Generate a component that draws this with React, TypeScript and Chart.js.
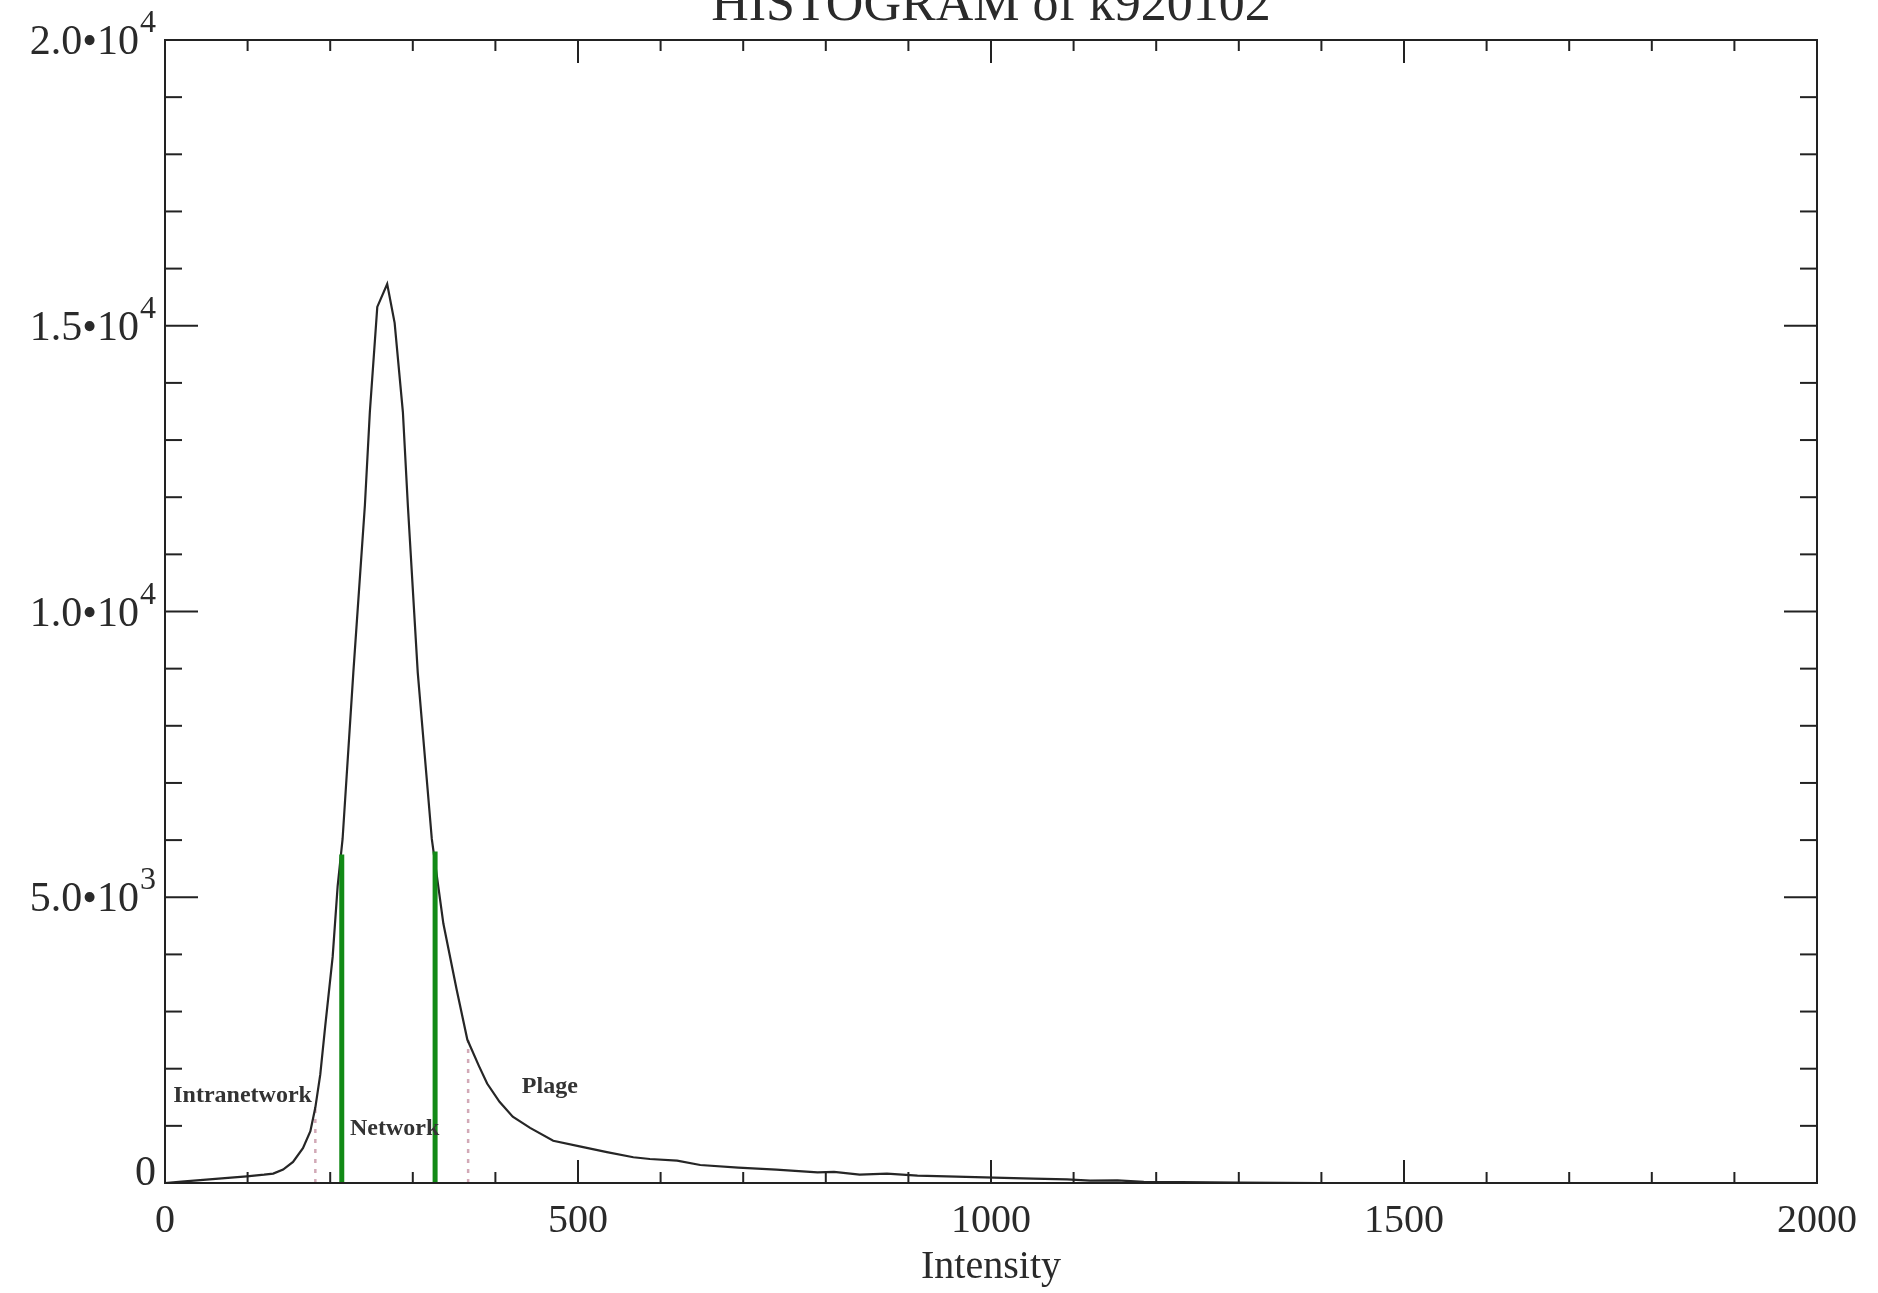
import React, { useEffect, useRef } from "react";
import { Chart, registerables } from "chart.js";

Chart.register(...registerables);

// ---- data ----
const HIST_X = [
  0, 20, 50, 80, 99, 120, 131, 143, 155, 167, 176, 182, 188, 194, 203, 209, 215, 228, 242, 248,
  257, 269, 278, 288, 294, 306, 323, 337, 353, 366, 380, 390, 405, 421, 442, 470, 502, 535, 567,
  587, 620, 648, 694, 740, 790, 810, 841, 874, 911, 958, 1004, 1051, 1092, 1120, 1153, 1185, 1230,
  1300, 1400, 1500, 1600, 1700, 1800, 1900, 2000,
];
const HIST_Y = [
  0, 25, 60, 95, 117, 145, 165, 235, 370, 610, 905, 1320, 1900, 2750, 3960, 5190, 6020, 8930, 11860,
  13490, 15330, 15730, 15050, 13490, 11860, 8930, 6020, 4540, 3390, 2510, 2050, 1740, 1420, 1160,
  965, 740, 640, 540, 450, 420, 390, 315, 270, 235, 185, 195, 145, 165, 130, 110, 95, 76, 64, 40,
  47, 20, 15, 5, 0, 0, 0, 0, 0, 0, 0,
];
const NETWORK_BOUND_X = [214, 327];
const NETWORK_BOUND_Y = [5750, 5800];
const REGION_MARK_X = [182, 367];
const REGION_MARK_Y = [1320, 2500];

const X_TICK_VALUES = [0, 500, 1000, 1500, 2000];
const X_TICK_LABELS = ["0", "500", "1000", "1500", "2000"];
const Y_TICK_VALUES = [0, 5000, 10000, 15000, 20000];
const Y_TICK_MANTISSA = ["0", "5.0\u202210", "1.0\u202210", "1.5\u202210", "2.0\u202210"];
const Y_TICK_EXP = ["", "3", "4", "4", "4"];

const REGION_LABELS = ["Intranetwork", "Network", "Plage"];
const REGION_LABEL_X = [10, 224, 432];
const REGION_LABEL_Y = [1420, 840, 1580];

const TITLE = "HISTOGRAM of k920102";
const X_TITLE = "Intensity";

// ---- styles ----
const FONT = "'Liberation Serif', 'Times New Roman', serif";
const INK = "#2a2a2a";
const W = 1878;
const H = 1293;

const idlPlugin = {
  id: "idlFrame",
  afterDatasetsDraw(chart: any) {
    const { ctx, chartArea: a, scales } = chart;
    const xs = scales.x;
    const ys = scales.y;
    ctx.save();
    ctx.strokeStyle = "#222";
    ctx.lineWidth = 2;
    ctx.strokeRect(a.left, a.top, a.right - a.left, a.bottom - a.top);

    const seg = (x1: number, y1: number, x2: number, y2: number) => {
      ctx.beginPath();
      ctx.moveTo(x1, y1);
      ctx.lineTo(x2, y2);
      ctx.stroke();
    };
    xs.ticks.forEach((t: any) => {
      const px = xs.getPixelForValue(t.value);
      const L = t.value % 500 === 0 ? 23 : 11;
      seg(px, a.bottom, px, a.bottom - L);
      seg(px, a.top, px, a.top + L);
    });
    ys.ticks.forEach((t: any) => {
      const py = ys.getPixelForValue(t.value);
      const L = t.value % 5000 === 0 ? 33 : 17;
      seg(a.left, py, a.left + L, py);
      seg(a.right, py, a.right - L, py);
    });

    // y tick labels with superscript exponents
    ctx.fillStyle = INK;
    ctx.textBaseline = "alphabetic";
    const R = a.left - 9;
    Y_TICK_VALUES.forEach((v, i) => {
      const py = ys.getPixelForValue(v) + (v === 0 ? -12 : 0);
      let right = R;
      if (Y_TICK_EXP[i]) {
        ctx.font = `32px ${FONT}`;
        ctx.textAlign = "right";
        ctx.fillText(Y_TICK_EXP[i], R, py - 8);
        right = R - ctx.measureText(Y_TICK_EXP[i]).width - 1;
      }
      ctx.font = `42px ${FONT}`;
      ctx.textAlign = "right";
      ctx.fillText(Y_TICK_MANTISSA[i], right, py + 14);
    });

    // region labels
    ctx.font = `bold 24px ${FONT}`;
    ctx.textAlign = "left";
    ctx.fillStyle = "#333";
    REGION_LABELS.forEach((s, i) => {
      ctx.fillText(s, xs.getPixelForValue(REGION_LABEL_X[i]), ys.getPixelForValue(REGION_LABEL_Y[i]));
    });

    // title (partially cut off at top, as in the scan)
    ctx.font = `52px ${FONT}`;
    ctx.textAlign = "center";
    ctx.fillStyle = INK;
    ctx.fillText(TITLE, (a.left + a.right) / 2, 20);
    ctx.restore();
  },
};

const vline = (x: number, y: number) => [
  { x, y: 0 },
  { x, y },
];

export default function App() {
  const ref = useRef<HTMLCanvasElement | null>(null);
  useEffect(() => {
    if (!ref.current) return;
    const green = "#128a16";
    const dotted = "rgba(205,160,175,0.9)";
    const chart = new Chart(ref.current, {
      type: "scatter",
      data: {
        datasets: [
          ...NETWORK_BOUND_X.map((x, i) => ({
            data: vline(x, NETWORK_BOUND_Y[i]),
            showLine: true,
            borderColor: green,
            borderWidth: 5,
            pointRadius: 0,
          })),
          {
            data: HIST_X.map((x, i) => ({ x, y: HIST_Y[i] })),
            showLine: true,
            borderColor: "#262626",
            borderWidth: 2.2,
            pointRadius: 0,
            tension: 0,
          },
          ...REGION_MARK_X.map((x, i) => ({
            data: vline(x, REGION_MARK_Y[i]),
            showLine: true,
            borderColor: dotted,
            borderWidth: 2.5,
            borderDash: [4, 6],
            pointRadius: 0,
          })),
        ],
      } as any,
      options: {
        animation: false,
        responsive: false,
        layout: { padding: { top: 40, left: 8, right: 61, bottom: 0 } },
        plugins: { legend: { display: false }, tooltip: { enabled: false }, title: { display: false } },
        scales: {
          x: {
            type: "linear",
            min: 0,
            max: 2000,
            border: { display: false },
            grid: { display: false, drawTicks: false },
            ticks: {
              stepSize: 100,
              autoSkip: false,
              maxRotation: 0,
              padding: 18,
              color: INK,
              font: { family: FONT, size: 40, lineHeight: 1 },
              callback: (v: any) => {
                const i = X_TICK_VALUES.indexOf(Number(v));
                return i >= 0 ? X_TICK_LABELS[i] : "";
              },
            },
            title: {
              display: true,
              text: X_TITLE,
              color: INK,
              font: { family: FONT, size: 40, lineHeight: 1.2 },
              padding: { top: 0, bottom: 2 },
            },
            afterFit: (s: any) => {
              s.height = 110;
            },
          },
          y: {
            type: "linear",
            min: 0,
            max: 20000,
            border: { display: false },
            grid: { display: false, drawTicks: false },
            ticks: { stepSize: 1000, display: false },
            afterFit: (s: any) => {
              s.width = 157;
            },
          },
        },
      } as any,
      plugins: [idlPlugin],
    });
    return () => chart.destroy();
  }, []);
  return (
    <div style={{ position: "fixed", left: 0, top: 0, width: W, height: H, background: "#fff" }}>
      <canvas ref={ref} width={W} height={H} style={{ display: "block", width: W, height: H }} />
    </div>
  );
}
